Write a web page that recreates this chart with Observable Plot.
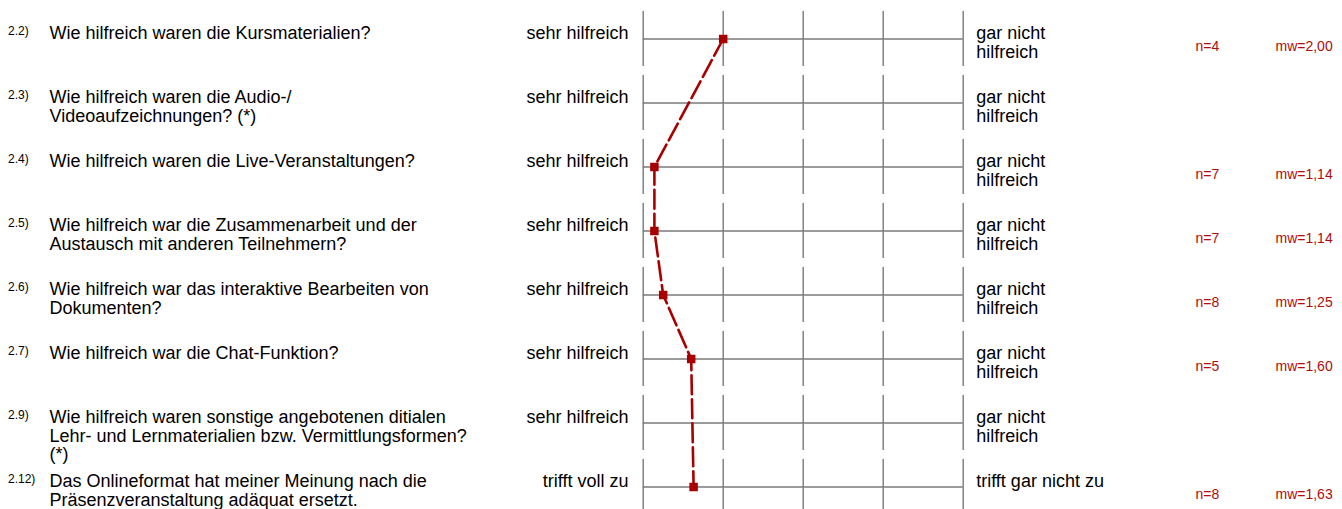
<!DOCTYPE html>
<html>
<head>
<meta charset="utf-8">
<script src="https://cdn.jsdelivr.net/npm/d3@7"></script>
<script src="https://cdn.jsdelivr.net/npm/@observablehq/plot@0.6"></script>
<style>
  html, body { margin: 0; padding: 0; background: #fff; }
  #chart svg { display: block; }
</style>
</head>
<body>
<div id="chart"></div>
<script>
// ---- data ----
const itemNumbers = ["2.2)", "2.3)", "2.4)", "2.5)", "2.6)", "2.7)", "2.9)", "2.12)"];
const questions = [
  "Wie hilfreich waren die Kursmaterialien?",
  "Wie hilfreich waren die Audio-/\nVideoaufzeichnungen? (*)",
  "Wie hilfreich waren die Live-Veranstaltungen?",
  "Wie hilfreich war die Zusammenarbeit und der\nAustausch mit anderen Teilnehmern?",
  "Wie hilfreich war das interaktive Bearbeiten von\nDokumenten?",
  "Wie hilfreich war die Chat-Funktion?",
  "Wie hilfreich waren sonstige angebotenen ditialen\nLehr- und Lernmaterialien bzw. Vermittlungsformen?\n(*)",
  "Das Onlineformat hat meiner Meinung nach die\nPräsenzveranstaltung adäquat ersetzt."
];
const leftPoles = ["sehr hilfreich", "sehr hilfreich", "sehr hilfreich", "sehr hilfreich",
  "sehr hilfreich", "sehr hilfreich", "sehr hilfreich", "trifft voll zu"];
const rightPoles = ["gar nicht\nhilfreich", "gar nicht\nhilfreich", "gar nicht\nhilfreich", "gar nicht\nhilfreich",
  "gar nicht\nhilfreich", "gar nicht\nhilfreich", "gar nicht\nhilfreich", "trifft gar nicht zu"];
const nValues = [4, null, 7, 7, 8, 5, null, 8];
const meanValues = [2.00, null, 1.14, 1.14, 1.25, 1.60, null, 1.63];
const scalePoints = [1, 2, 3, 4, 5];

// ---- derived tables ----
const rows = questions.map((q, i) => ({
  row: i, num: itemNumbers[i], question: q, left: leftPoles[i], right: rightPoles[i],
  n: nValues[i], mw: meanValues[i]
}));
const grid = rows.flatMap(r => scalePoints.map(v => ({row: r.row, v})));
const defined = rows.filter(r => r.mw != null);
const fmt = v => v.toFixed(2).replace(".", ",");

const RED = "#a80000";
const TEXTRED = "#b00c0c";
const GRAY = "#7a7a7a";
const FONT = "'Liberation Sans', Arial, Helvetica, sans-serif";

const chart = Plot.plot({
  width: 1342,
  height: 509,
  margin: 0,
  style: {fontFamily: FONT, background: "#fff", color: "#000"},
  x: {type: "linear", domain: [1, 5], range: [642.7, 962.7], axis: null},
  y: {type: "band", domain: rows.map(r => r.row), range: [2.2, 523.2], padding: 0.140625, axis: null},
  marks: [
    Plot.tickX(grid, {x: "v", y: "row", stroke: GRAY, strokeWidth: 1.4}),
    Plot.ruleY(rows, {y: "row", x1: 1, x2: 5, stroke: GRAY, strokeWidth: 1.4}),
    Plot.line(defined, {x: "mw", y: "row", stroke: RED, strokeWidth: 2.6, strokeDasharray: "19,5", curve: "linear"}),
    Plot.dot(defined, {x: "mw", y: "row", symbol: "square", r: 4.8, fill: RED, stroke: "none"}),
    // item numbers
    Plot.text(rows, {x: 1, y: "row", text: "num", textAnchor: "start", lineAnchor: "top",
      dx: 7.5 - 642.7, dy: -12.5, fontSize: 12, fill: "#000"}),
    // questions
    Plot.text(rows, {x: 1, y: "row", text: "question", textAnchor: "start", lineAnchor: "top",
      dx: 49 - 642.7, dy: -13, fontSize: 18, lineHeight: 1.03, fill: "#000"}),
    // left poles
    Plot.text(rows, {x: 1, y: "row", text: "left", textAnchor: "end", lineAnchor: "top",
      dx: -14.7, dy: -13, fontSize: 18, fill: "#000"}),
    // right poles
    Plot.text(rows, {x: 5, y: "row", text: "right", textAnchor: "start", lineAnchor: "top",
      dx: 13, dy: -13, fontSize: 18, lineHeight: 1.03, fill: "#000"}),
    // n
    Plot.text(rows.filter(r => r.n != null), {x: 5, y: "row", text: r => "n=" + r.n, textAnchor: "start", lineAnchor: "top",
      dx: 232.3, dy: 2.4, fontSize: 14, fill: TEXTRED}),
    // mw
    Plot.text(defined, {x: 5, y: "row", text: r => "mw=" + fmt(r.mw), textAnchor: "start", lineAnchor: "top",
      dx: 312.3, dy: 2.4, fontSize: 14, fill: TEXTRED})
  ]
});
document.getElementById("chart").appendChild(chart);
</script>
</body>
</html>
